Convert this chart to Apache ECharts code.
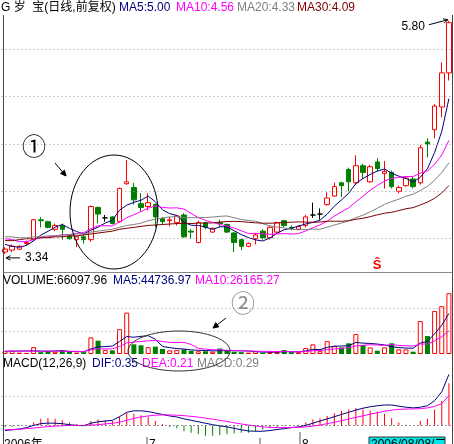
<!DOCTYPE html>
<html><head><meta charset="utf-8">
<script src="https://cdn.jsdelivr.net/npm/echarts@6/dist/echarts.min.js"></script>
<style>html,body{margin:0;padding:0;background:#fff}#c{width:454px;height:444px}</style>
</head><body><div id="c"></div>
<script>
const days = [1,2,3,4,5,6,7,8,9,10,11,12,13,14,15,16,17,18,19,20,21,22,23,24,25,26,27,28,29,30,31,32,33,34,35,36,37,38,39,40,41,42,43,44,45,46,47,48,49,50,51,52,53,54,55,56,57,58,59,60,61,62,63];
const opens = [3.36,3.38,3.39,3.45,3.49,3.70,3.68,3.60,3.64,3.53, 3.49,3.52,3.49,3.83,3.72,3.73,3.68,4.08,4.04,3.87, 3.84,3.86,3.71,3.69,3.67,3.75,3.58,3.46,3.67,3.57, 3.67,3.65,3.56,3.49,3.42,3.50,3.58,3.51,3.57,3.69, 3.62,3.60,3.64,3.75,3.76,3.86,3.95,4.09,4.23,4.09, 4.27,4.10,4.31,4.19,4.20,4.00,4.06,4.13,4.09,4.52, 4.65,4.89,5.25];
const closes = [3.39,3.42,3.42,3.46,3.70,3.69,3.62,3.64,3.60,3.50, 3.52,3.49,3.84,3.76,3.72,3.66,4.03,4.10,3.91,3.83, 3.88,3.73,3.68,3.70,3.74,3.52,3.57,3.67,3.62,3.61, 3.66,3.57,3.46,3.42,3.45,3.54,3.51,3.62,3.67,3.64, 3.61,3.63,3.73,3.75,3.76,3.93,4.05,4.06,4.10,4.27, 4.20,4.26,4.24,4.21,4.05,4.04,4.14,4.05,4.46,4.50, 4.90,5.25,5.78];
const lows = [3.34,3.36,3.38,3.43,3.48,3.62,3.61,3.58,3.49,3.49, 3.41,3.45,3.47,3.66,3.68,3.65,3.67,4.07,3.86,3.79, 3.80,3.62,3.65,3.63,3.64,3.51,3.50,3.45,3.60,3.56, 3.62,3.56,3.36,3.38,3.41,3.44,3.49,3.49,3.55,3.62, 3.59,3.59,3.62,3.72,3.70,3.85,3.94,3.94,4.00,4.07, 4.13,4.09,4.21,4.03,4.03,3.98,4.05,4.03,4.07,4.36, 4.56,4.78,5.17];
const highs = [3.41,3.44,3.43,3.48,3.71,3.73,3.69,3.66,3.66,3.55, 3.53,3.54,3.85,3.84,3.75,3.74,4.04,4.33,4.09,3.98, 3.98,3.87,3.73,3.73,3.75,3.77,3.60,3.69,3.68,3.62, 3.70,3.66,3.57,3.50,3.46,3.56,3.60,3.64,3.68,3.70, 3.64,3.64,3.75,3.88,3.82,3.99,4.09,4.10,4.25,4.38, 4.29,4.28,4.35,4.32,4.22,4.06,4.15,4.15,4.49,4.56, 4.92,5.36,5.80];
const dojiIdx = [14,43,44];
const ma5 = [3.44,3.42,3.41,3.43,3.478,3.538,3.578,3.622,3.650,3.610,3.576,3.550,3.590,3.622,3.666,3.694,3.802,3.854,3.884,3.906,3.950,3.890,3.806,3.764,3.746,3.674,3.642,3.640,3.624,3.598,3.626,3.626,3.584,3.544,3.512,3.488,3.476,3.508,3.558,3.596,3.610,3.634,3.656,3.672,3.696,3.760,3.844,3.910,3.980,4.082,4.136,4.178,4.214,4.236,4.192,4.160,4.136,4.098,4.148,4.238,4.410,4.632,4.978];
const ma10 = [3.50,3.49,3.47,3.47,3.49,3.51,3.52,3.53,3.54,3.544,3.557,3.564,3.606,3.636,3.638,3.635,3.676,3.722,3.753,3.786,3.822,3.846,3.830,3.824,3.826,3.812,3.766,3.723,3.694,3.672,3.650,3.634,3.612,3.584,3.555,3.557,3.551,3.546,3.551,3.554,3.549,3.555,3.582,3.615,3.646,3.685,3.739,3.783,3.826,3.889,3.948,4.011,4.062,4.108,4.137,4.148,4.157,4.156,4.192,4.215,4.285,4.384,4.538];
const ma20 = [3.52,3.52,3.51,3.51,3.52,3.52,3.53,3.53,3.54,3.54,3.55,3.55,3.57,3.58,3.59,3.60,3.62,3.64,3.65,3.665,3.690,3.705,3.718,3.730,3.732,3.724,3.721,3.723,3.724,3.729,3.736,3.740,3.721,3.704,3.691,3.685,3.659,3.635,3.623,3.613,3.600,3.595,3.597,3.600,3.601,3.621,3.645,3.665,3.689,3.722,3.749,3.783,3.822,3.862,3.892,3.917,3.948,3.970,4.009,4.052,4.117,4.198,4.300];
const ma30 = [3.48,3.48,3.49,3.50,3.50,3.51,3.51,3.52,3.52,3.53,3.53,3.54,3.55,3.56,3.57,3.58,3.60,3.61,3.62,3.63,3.64,3.645,3.65,3.655,3.66,3.66,3.66,3.665,3.665,3.667,3.676,3.681,3.683,3.681,3.673,3.668,3.664,3.664,3.666,3.671,3.674,3.678,3.675,3.674,3.676,3.685,3.685,3.684,3.690,3.705,3.716,3.733,3.752,3.769,3.779,3.797,3.816,3.828,3.856,3.886,3.927,3.983,4.061];
const volumes = [3000,3500,1500,1200,7500,2000,3000,2500,3500,2500, 1500,2000,18000,14500,4500,4000,27000,45000,10500,9500, 7500,8000,5500,4000,4500,5000,3500,3000,3000,2500, 6000,4000,2500,2000,1500,3000,1500,2000,2000,4300, 2000,2000,6500,10500,3000,14000,8700,7200,11600,21700, 9800,7200,3600,7200,11600,5000,5000,2500,35800,19500, 46700,52000,66098];
const volMa5 = [3000,3100,3200,3300,3340,3140,3040,3240,3700,2700,2600,2400,5500,7700,8100,8600,13600,19000,18200,19200,19900,16100,8200,6900,5900,5400,4500,4000,3800,3400,3600,3700,3600,3400,3200,2600,2100,2000,2000,2560,2360,2460,3360,5060,4800,7200,8540,8680,8900,12640,11800,11500,10780,9900,7880,6920,6480,6260,11980,13560,21900,31300,44020];
const volMa10 = [2900,3000,3000,3100,3100,3100,3100,3100,3100,3020,2870,2720,4370,5700,5400,5600,8000,12250,12950,13650,14250,14850,13600,12550,12550,12650,10300,6100,5350,4650,4500,4100,3800,3600,3300,3100,2900,2800,2700,2880,2480,2280,2680,3530,3680,4780,5500,6020,6980,8720,9500,10020,9730,9400,10260,9360,8990,8520,10940,10720,14410,18890,25140];
const macd = [-0.01,-0.01,-0.005,0,0.02,0.045,0.05,0.045,0.035,0.02, 0.01,0,0.03,0.04,0.035,0.03,0.06,0.085,0.08,0.07, 0.06,0.03,0.01,-0.01,-0.02,-0.04,-0.05,-0.06,-0.07,-0.07, -0.065,-0.06,-0.055,-0.05,-0.05,-0.04,-0.03,-0.02,-0.01,-0.005, 0,0.005,0.02,0.04,0.05,0.065,0.083,0.1,0.11,0.12, 0.11,0.1,0.095,0.08,0.05,0.02,0.005,0,0.03,0.045, 0.11,0.17,0.29];
const dif = [-0.035,-0.03,-0.025,-0.015,0,0.012,0.016,0.015,0.012,0.005, 0,-0.002,0.015,0.025,0.03,0.035,0.06,0.09,0.1,0.1, 0.095,0.085,0.075,0.065,0.058,0.045,0.035,0.025,0.015,0.005, -0.003,-0.01,-0.02,-0.03,-0.038,-0.04,-0.04,-0.035,-0.028,-0.022, -0.015,-0.01,0,0.015,0.03,0.045,0.06,0.075,0.09,0.105, 0.118,0.128,0.135,0.14,0.14,0.132,0.125,0.12,0.125,0.135, 0.17,0.23,0.35];
const dea = [-0.03,-0.028,-0.026,-0.022,-0.018,-0.013,-0.008,-0.005,-0.002,0, 0,0,0.002,0.005,0.01,0.015,0.022,0.035,0.048,0.058, 0.065,0.07,0.072,0.072,0.07,0.067,0.062,0.057,0.05,0.043, 0.035,0.027,0.018,0.01,0.003,-0.004,-0.01,-0.013,-0.015,-0.015, -0.015,-0.013,-0.01,-0.005,0.003,0.012,0.022,0.032,0.044,0.055, 0.066,0.077,0.087,0.097,0.105,0.11,0.112,0.113,0.115,0.12, 0.13,0.15,0.205];
const priceGridLines = [3.5,4,4.5,5,5.5];
const volGridLines = [25000,50000];
const macdGridLines = [0.2];

const RED='#ff0000', GREEN='#008000', NAVY='#000080', MAG='#ff00ff', GRAY='#808080', DRED='#800000';
const FONT='"Liberation Sans","Noto Sans CJK SC",sans-serif';

const candleData = days.map((d,i)=>{
  const item={value:[opens[i],closes[i],lows[i],highs[i]]};
  if(dojiIdx.indexOf(i)>=0) item.itemStyle={color:'#000',color0:'#000',borderColor:'#000',borderColor0:'#000'};
  return item;
});
const volData = volumes.map((v,i)=> closes[i]>=opens[i]
  ? {value:v,itemStyle:{color:'#fff',borderColor:RED,borderWidth:1}}
  : {value:v,itemStyle:{color:GREEN,borderColor:GREEN,borderWidth:0}});
const macdData = macd.map(v=>({value:v,itemStyle:{color: v>=0?RED:GREEN}}));

function dotted(vals,color){
  return {silent:true,symbol:['none','none'],animation:false,label:{show:false},
    lineStyle:{type:[1,3],color:color,width:1},data:vals.map(v=>({yAxis:v}))};
}
function line(name,data,color,xi){
  return {name,type:'line',data,xAxisIndex:xi,yAxisIndex:xi,symbol:'none',smooth:false,
    lineStyle:{color,width:1},itemStyle:{color},z:3,silent:true};
}
function T(text,x,y,fill,size,align,weight,va){
  return {type:'text',z:100,silent:true,style:{text,x,y,fill,
    font:(weight||'normal')+' '+(size||12)+'px '+FONT,
    textAlign:align||'left',textVerticalAlign:va||'middle',align:align||'left',verticalAlign:va||'middle'}};
}
function L(x1,y1,x2,y2,color,w){
  return {type:'line',z:100,silent:true,shape:{x1,y1,x2,y2},style:{stroke:color||'#000',lineWidth:w||1}};
}
function arrow(x1,y1,x2,y2,len,color,filled){
  const a=Math.atan2(y2-y1,x2-x1), w=0.45;
  const p1=[x2-len*Math.cos(a-w),y2-len*Math.sin(a-w)], p2=[x2-len*Math.cos(a+w),y2-len*Math.sin(a+w)];
  const head = filled
    ? {type:'polygon',z:100,silent:true,shape:{points:[[x2,y2],p1,p2]},style:{fill:color,stroke:color,lineWidth:1}}
    : {type:'polyline',z:100,silent:true,shape:{points:[p1,[x2,y2],p2]},style:{stroke:color,lineWidth:1,fill:null}};
  return [L(x1,y1,x2,y2,color,1), head];
}

const gl=1.4, gr=1.5;
const chart = echarts.init(document.getElementById('c'),null,{renderer:'canvas'});
const xa = i=>({type:'category',gridIndex:i,data:days,boundaryGap:true,show:false});
const option = {
  animation:false,
  backgroundColor:'#fff',
  grid:[
    {left:gl,right:gr,top:16,height:254},
    {left:gl,right:gr,top:274,height:80},
    {left:gl,right:gr,top:370,height:70}
  ],
  xAxis:[xa(0),xa(1),xa(2)],
  yAxis:[
    {type:'value',gridIndex:0,min:3.17,max:5.85,show:false,splitLine:{show:false}},
    {type:'value',gridIndex:1,min:0,max:87000,show:false,splitLine:{show:false}},
    {type:'value',gridIndex:2,min:-0.1,max:0.38,show:false,splitLine:{show:false}}
  ],
  series:[
    {type:'candlestick',xAxisIndex:0,yAxisIndex:0,data:candleData,barWidth:5,silent:true,z:2,
     itemStyle:{color:'#fff',color0:GREEN,borderColor:RED,borderColor0:GREEN,borderWidth:1},
     markLine:dotted(priceGridLines,'#999')},
    line('MA5',ma5,NAVY,0),
    line('MA10',ma10,MAG,0),
    line('MA20',ma20,GRAY,0),
    line('MA30',ma30,DRED,0),
    {type:'bar',xAxisIndex:1,yAxisIndex:1,data:volData,barWidth:5,silent:true,z:2,
     markLine:dotted(volGridLines,'#999')},
    line('VMA5',volMa5,NAVY,1),
    line('VMA10',volMa10,MAG,1),
    {type:'bar',xAxisIndex:2,yAxisIndex:2,data:macdData,barWidth:1,silent:true,z:2,
     markLine:dotted(macdGridLines,'#999')},
    Object.assign(line('DIF',dif,NAVY,2),{markLine:dotted([0],'#333')}),
    line('DEA',dea,MAG,2)
  ],
  graphic:[]
};
chart.setOption(option);

const g=[];
// frame
g.push(L(3.5,15,3.5,444,'#444'));
g.push(L(452.5,15,452.5,444,'#444'));
g.push(L(3.5,272.5,452.5,272.5,'#888'));
// headers
g.push(T('G 岁  宝(日线,前复权)',1,8,'#000'));
g.push(T('MA5:5.00',119,8,NAVY));
g.push(T('MA10:4.56',176,8,MAG));
g.push(T('MA20:4.33',237,8,GRAY));
g.push(T('MA30:4.09',297,8,DRED));
g.push(T('VOLUME:66097.96',3,281,'#000'));
g.push(T('MA5:44736.97',113,281,NAVY));
g.push(T('MA10:26165.27',195,281,MAG));
g.push(T('MACD(12,26,9)',3,364,'#000'));
g.push(T('DIF:0.35',92,364,NAVY));
g.push(T('DEA:0.21',142,364,MAG));
g.push(T('MACD:0.29',197,364,GRAY));
// high / low marks anchored to data
const hi = chart.convertToPixel({xAxisIndex:0,yAxisIndex:0},[62,highs[62]]);
const lo = chart.convertToPixel({xAxisIndex:0,yAxisIndex:0},[0,lows[0]]);
g.push(T(highs[62].toFixed(2),hi[0]-24,hi[1]+6,'#000',12,'right'));
g.push(...arrow(hi[0]-20,hi[1]+4,hi[0]-1,hi[1]-1,5,'#000',false));
g.push(T(lows[0].toFixed(2),lo[0]+20,lo[1]+4,'#000',12,'left'));
g.push(...arrow(lo[0]+15,lo[1]+4,lo[0]+1,lo[1]+4,5,'#000',false));
// annotation 1
g.push(T('①',34,148,'#000',24,'center'));
g.push(...arrow(55,163,66,176,6,'#000',true));
g.push({type:'ellipse',z:100,silent:true,shape:{cx:114,cy:212,rx:44,ry:57},style:{fill:null,stroke:'#000',lineWidth:1}});
// annotation 2
g.push(T('②',243,305,'#888',24,'center'));
g.push(...arrow(226,318,213,328,6,'#000',true));
g.push({type:'ellipse',z:100,silent:true,shape:{cx:179,cy:351,rx:51,ry:20},style:{fill:null,stroke:'#333',lineWidth:1}});
// signal mark
g.push(T('Ŝ',377,265,RED,13,'center','bold'));
// bottom date strip
g.push(L(147,437,147,444,'#555'));
g.push(L(260,438,260,444,'#555'));
g.push(L(300,432,300,444,'#555'));
g.push(T('2006年',4,439,'#000',12,'left','normal','top'));
g.push(T('7',149,439,'#000',12,'left','normal','top'));
g.push(T('8',302,439,'#000',12,'left','normal','top'));
g.push({type:'rect',z:99,silent:true,shape:{x:369,y:437,width:76,height:10},style:{fill:'#00e5e5',stroke:'#333',lineWidth:1}});
g.push(T('2006/08/08/二',371,439,'#000',12,'left','normal','top'));
chart.setOption({graphic:g});
</script>
</body></html>
